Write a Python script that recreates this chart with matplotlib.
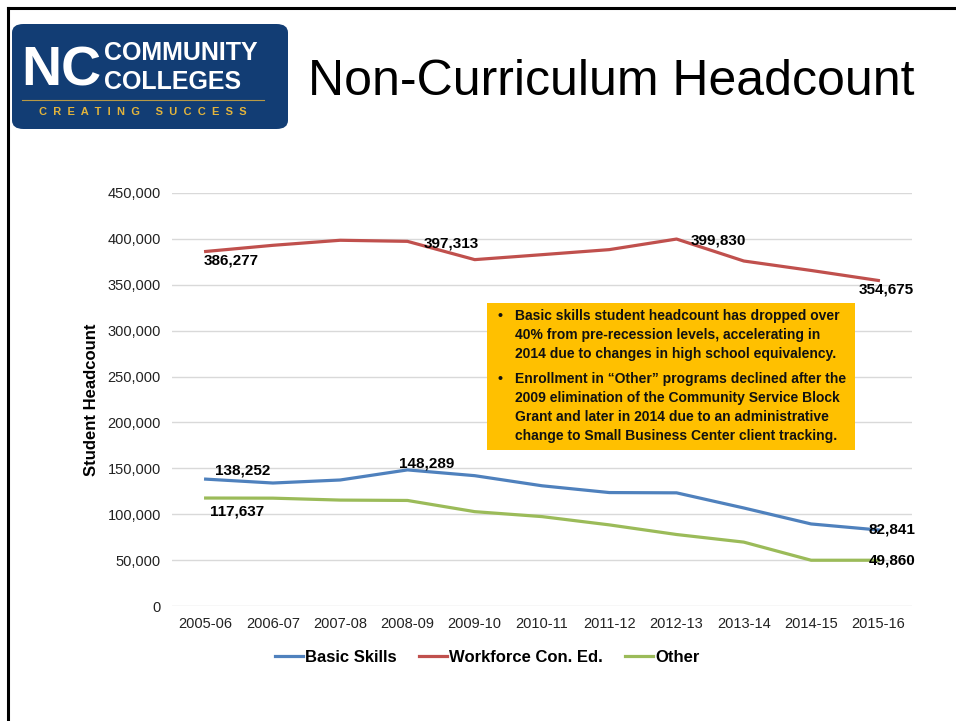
import numpy as np
import matplotlib.pyplot as plt
from matplotlib.lines import Line2D
from matplotlib.patches import FancyBboxPatch

# data
years = ['2005-06', '2006-07', '2007-08', '2008-09', '2009-10', '2010-11',
         '2011-12', '2012-13', '2013-14', '2014-15', '2015-16']
basic_skills = [138252, 134000, 137300, 148289, 142000, 131000,
                123600, 123300, 106800, 89400, 82841]
workforce = [386277, 393000, 398500, 397313, 377400, 382800,
             388300, 399830, 375900, 365600, 354675]
other = [117637, 117500, 115400, 115000, 102800, 97400,
         88400, 77900, 69600, 49860, 49860]
yticks = [0, 50000, 100000, 150000, 200000, 250000, 300000, 350000, 400000, 450000]

blue = '#4F81BD'
red = '#C0504D'
green = '#9BBB59'

plt.rcParams['font.family'] = ['Liberation Sans', 'DejaVu Sans']

fig = plt.figure(figsize=(9.56, 7.21), dpi=100)
W, H = 956, 721

def fx(px):
    return px / W

def fy(py):
    return 1 - py / H

# slide border (top and left)
fig.add_artist(Line2D([fx(8), 1], [fy(8), fy(8)], color='black', lw=2.2))
fig.add_artist(Line2D([fx(8), fx(8)], [fy(8), 0], color='black', lw=2.2))

# logo
logo = FancyBboxPatch((fx(12), fy(129)), fx(276), fy(24) - fy(129),
                      boxstyle='round,pad=0,rounding_size=0.012',
                      transform=fig.transFigure, facecolor='#123D74',
                      edgecolor='none')
fig.add_artist(logo)
fig.text(fx(21), fy(71), 'NC', color='white', fontsize=40, fontweight='bold',
         va='center', ha='left')
fig.text(fx(104), fy(53), 'COMMUNITY', color='white', fontsize=18, fontweight='bold',
         va='center', ha='left')
fig.text(fx(104), fy(82), 'COLLEGES', color='white', fontsize=18, fontweight='bold',
         va='center', ha='left')
fig.add_artist(Line2D([fx(22), fx(264)], [fy(100), fy(100)], color='#B89A45', lw=0.8))
fig.text(fx(143), fy(112), 'C  R  E  A  T  I  N  G     S  U  C  C  E  S  S',
         color='#E2B43C', fontsize=8, fontweight='bold', va='center', ha='center')

# title
fig.text(fx(308), fy(82), 'Non-Curriculum Headcount', fontsize=36,
         va='center', ha='left')

ax = fig.add_axes([fx(172), fy(606), fx(912) - fx(172), fy(193) - fy(606)])
x = np.arange(len(years))
ax.plot(x, basic_skills, color=blue, lw=2.3, label='Basic Skills')
ax.plot(x, workforce, color=red, lw=2.3, label='Workforce Con. Ed.')
ax.plot(x, other, color=green, lw=2.3, label='Other')

ax.set_xlim(-0.5, len(years) - 0.5)
ax.set_ylim(0, 450000)
ax.set_yticks(yticks)
ax.set_yticklabels([f'{v:,}' for v in yticks])
ax.set_xticks(x)
ax.set_xticklabels(years)
ax.tick_params(length=0, labelsize=10.5, colors='#222222', pad=8)
ax.yaxis.grid(True, color='#D9D9D9', lw=1)
ax.set_axisbelow(True)
for s in ax.spines.values():
    s.set_visible(False)
ax.set_ylabel('Student Headcount', fontsize=12, fontweight='bold', labelpad=6)

# data labels: (series, index, offset in points)
lab = dict(fontsize=11, fontweight='bold', color='black', ha='left', va='center',
           textcoords='offset points')
labels = [
    (workforce, 0, (-1.4, -6.2)),
    (workforce, 3, (11.5, -1.2)),
    (workforce, 7, (10, -1.4)),
    (workforce, 10, (-14.4, -6.2)),
    (basic_skills, 0, (6.5, 6.5)),
    (basic_skills, 3, (-5.8, 4.3)),
    (basic_skills, 10, (-7.2, 0)),
    (other, 0, (2.9, -9.4)),
    (other, 10, (-7.2, 0)),
]
for series, i, off in labels:
    ax.annotate(f'{series[i]:,}', (i, series[i]), xytext=off, **lab)

# callout box
bullet1 = ("Basic skills student headcount has dropped over\n"
           "40% from pre-recession levels, accelerating in\n"
           "2014 due to changes in high school equivalency.")
bullet2 = ("Enrollment in \u201cOther\u201d programs declined after the\n"
           "2009 elimination of the Community Service Block\n"
           "Grant and later in 2014 due to an administrative\n"
           "change to Small Business Center client tracking.")
fig.add_artist(plt.Rectangle((fx(487), fy(450)), fx(855) - fx(487), fy(303) - fy(450),
                             transform=fig.transFigure, facecolor='#FFC000',
                             edgecolor='none', zorder=3))
btxt = dict(fontsize=10, fontweight='bold', va='top', ha='left',
            linespacing=1.45, color='#111111', zorder=4)
fig.text(fx(497), fy(309), '\u2022', **btxt)
fig.text(fx(515), fy(309), bullet1, **btxt)
fig.text(fx(497), fy(372), '\u2022', **btxt)
fig.text(fx(515), fy(372), bullet2, **btxt)

# legend
handles = [Line2D([], [], color=c, lw=2.3) for c in (blue, red, green)]
fig.legend(handles, ['Basic Skills', 'Workforce Con. Ed.', 'Other'],
           loc='center', bbox_to_anchor=(fx(487), fy(657)), ncol=3, frameon=False,
           prop={'size': 12, 'weight': 'bold'}, handlelength=1.7, handletextpad=0.1,
           columnspacing=1.35)

fig.savefig('out.png', dpi=100)
